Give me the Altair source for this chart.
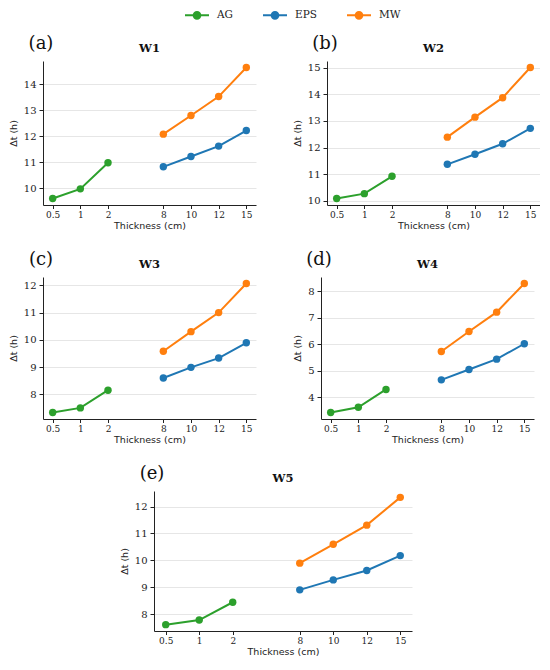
import altair as alt
import pandas as pd

# ---- data ----
x_domain = ["0.5", "1", "2", " ", "8", "10", "12", "15"]   # " " = visual gap
thickness = ["0.5", "1", "2", "8", "10", "12", "15"]
ag_thick = ["0.5", "1", "2"]
ins_thick = ["8", "10", "12", "15"]
materials = ["AG", "EPS", "MW"]
colors = ["#2ca02c", "#1f77b4", "#ff7f0e"]

walls = ["W1", "W2", "W3", "W4", "W5"]
letters = ["(a)", "(b)", "(c)", "(d)", "(e)"]

ag_w1 = [9.60, 9.97, 10.98]
ag_w2 = [10.09, 10.27, 10.92]
ag_w3 = [7.33, 7.50, 8.15]
ag_w4 = [3.43, 3.63, 4.30]
ag_w5 = [7.62, 7.79, 8.45]

eps_w1 = [10.82, 11.22, 11.62, 12.22]
eps_w2 = [11.37, 11.75, 12.14, 12.72]
eps_w3 = [8.60, 8.99, 9.33, 9.89]
eps_w4 = [4.66, 5.05, 5.44, 6.02]
eps_w5 = [8.91, 9.28, 9.63, 10.18]

mw_w1 = [12.08, 12.80, 13.53, 14.65]
mw_w2 = [12.39, 13.14, 13.87, 15.00]
mw_w3 = [9.58, 10.30, 11.00, 12.07]
mw_w4 = [5.73, 6.48, 7.21, 8.29]
mw_w5 = [9.90, 10.60, 11.31, 12.34]

yt_w1 = [10, 11, 12, 13, 14]
yt_w2 = [10, 11, 12, 13, 14, 15]
yt_w3 = [8, 9, 10, 11, 12]
yt_w4 = [4, 5, 6, 7, 8]
yt_w5 = [8, 9, 10, 11, 12]

ag_all = [ag_w1, ag_w2, ag_w3, ag_w4, ag_w5]
eps_all = [eps_w1, eps_w2, eps_w3, eps_w4, eps_w5]
mw_all = [mw_w1, mw_w2, mw_w3, mw_w4, mw_w5]
yt_all = [yt_w1, yt_w2, yt_w3, yt_w4, yt_w5]

SERIF = "DejaVu Serif"
SANS = "DejaVu Sans"

# legend glyph: line with a dot (path wider than the unit box on purpose)
legend_path = "M-2,0L2,0M-0.56,0A0.56,0.56,0,1,0,0.56,0A0.56,0.56,0,1,0,-0.56,0Z"


def panel(i, width, height):
    rows = []
    for t, v in zip(ag_thick, ag_all[i]):
        rows.append({"Thickness": t, "dt": v, "Material": "AG"})
    for t, v in zip(ins_thick, eps_all[i]):
        rows.append({"Thickness": t, "dt": v, "Material": "EPS"})
    for t, v in zip(ins_thick, mw_all[i]):
        rows.append({"Thickness": t, "dt": v, "Material": "MW"})
    df = pd.DataFrame(rows)
    lo, hi = df["dt"].min(), df["dt"].max()
    m = 0.05 * (hi - lo)

    x = alt.X("Thickness:O",
              scale=alt.Scale(type="point", domain=x_domain, padding=0.35),
              sort=None,
              axis=alt.Axis(values=thickness, labelAngle=0, title="Thickness (cm)", grid=False,
                            tickSize=3.5, labelPadding=1.5, titlePadding=1,
                            labelFontSize=9))
    y = alt.Y("dt:Q",
              scale=alt.Scale(domain=[lo - m, hi + m], nice=False, zero=False),
              axis=alt.Axis(values=yt_all[i], title="Δt (h)", grid=True, format="d",
                            tickSize=4, labelPadding=3, titlePadding=5,
                            labelFontSize=10))
    color = alt.Color("Material:N",
                      scale=alt.Scale(domain=materials, range=colors),
                      legend=alt.Legend(title=None, orient="none", direction="horizontal",
                                        legendX=147, legendY=-53,
                                        symbolType=legend_path, symbolSize=144,
                                        symbolStrokeWidth=2, columnPadding=26,
                                        labelFont=SERIF, labelFontSize=10.5,
                                        labelColor="#222", labelOffset=13))
    base = alt.Chart(df).encode(x=x, y=y, color=color, detail="Material:N")
    line = base.mark_line(strokeWidth=2)
    pts = base.mark_point(filled=True, size=55, opacity=1)
    lab = alt.Chart(pd.DataFrame({"t": [letters[i]]})).mark_text(
        font=SERIF, fontSize=18, align="center", baseline="middle", color="#111"
    ).encode(text="t:N", x=alt.value(-2), y=alt.value(-17))
    ttl = alt.Chart(pd.DataFrame({"t": [walls[i]]})).mark_text(
        font=SERIF, fontSize=11.5, fontWeight="bold", align="center", baseline="middle",
        color="#111"
    ).encode(text="t:N", x=alt.value(width / 2), y=alt.value(-12))
    return alt.layer(line, pts, lab, ttl).properties(width=width, height=height)


p1 = panel(0, 213, 144)
p2 = panel(1, 213, 144)
p3 = panel(2, 213, 142)
p4 = panel(3, 213, 142)
p5 = panel(4, 258, 140)

blank = alt.Chart(pd.DataFrame({"a": [0]})).mark_point(opacity=0).encode(
    x=alt.value(0), y=alt.value(0)).properties(width=76, height=140)

row1 = alt.hconcat(p1, p2, spacing=36)
row2 = alt.hconcat(p3, p4, spacing=36)
row3 = alt.hconcat(blank, p5, spacing=0)

chart = alt.vconcat(row1, row2, row3, spacing=21).properties(
    padding=0
).configure_view(stroke=None).configure_axis(
    labelFont=SERIF, labelColor="#222",
    titleFont=SANS, titleFontSize=9.5, titleFontWeight="normal", titleColor="#222",
    domainColor="#222", tickColor="#222", gridColor="#e6e6e6"
)

chart.save("out.html", embed_options={"renderer": "svg", "actions": False})
